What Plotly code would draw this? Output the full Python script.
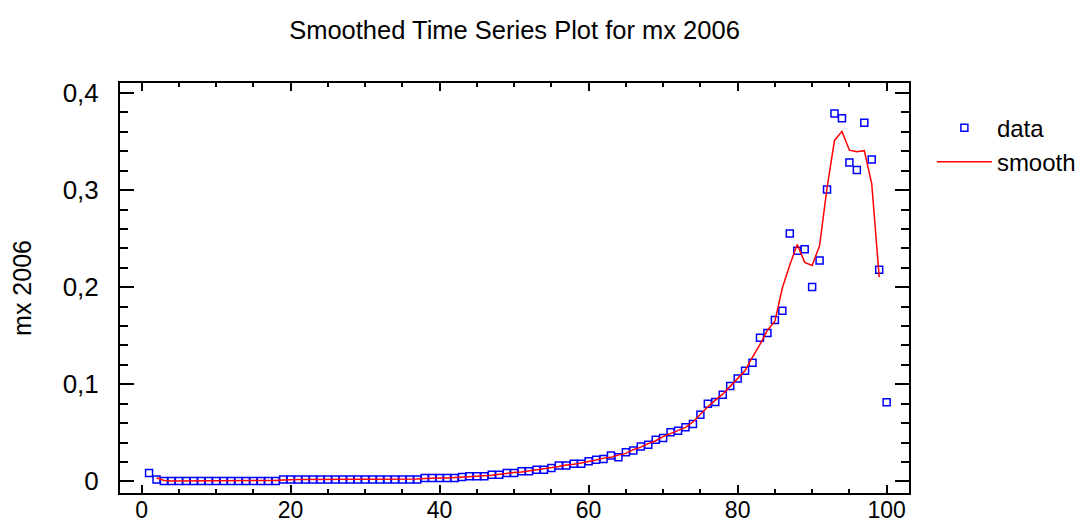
import plotly.graph_objects as go

# ---- data ----
x_data = list(range(1, 101))
y_data = (
    [0.0086, 0.0020]
    + [0.0004] * 16
    + [0.0020] * 19
    + [0.0035] * 5
    + [0.0045]
    + [0.0052] * 3
    + [0.0069, 0.0069, 0.0086, 0.0086, 0.0103, 0.0103, 0.0120, 0.0120, 0.0138,
       0.0162, 0.0162, 0.0182, 0.0182, 0.0206, 0.0223, 0.0230, 0.0265, 0.0247,
       0.0299, 0.0319, 0.0360, 0.0378, 0.0429, 0.0447, 0.0505, 0.0522, 0.0556,
       0.0591, 0.0687, 0.0800, 0.0818, 0.0893, 0.0982, 0.1060, 0.1140, 0.1222,
       0.1480, 0.1528, 0.1662, 0.1758, 0.2554, 0.2376, 0.2390, 0.2002, 0.2276,
       0.3005, 0.3790, 0.3740, 0.3285, 0.3207, 0.3694, 0.3316, 0.2180, 0.0814]
)

x_smooth = list(range(2, 100))
y_smooth = (
    [0.00367, 0.00093]
    + [0.0004] * 14
    + [0.00093, 0.00147]
    + [0.0020] * 17
    + [0.0025, 0.0030, 0.0035, 0.0035, 0.0035, 0.00383, 0.0044, 0.00497, 0.0052,
       0.00577, 0.00633, 0.00747, 0.00803, 0.00917, 0.00973, 0.01087, 0.01143,
       0.0126, 0.0140, 0.0154, 0.01687, 0.01753, 0.0190, 0.02037, 0.02197,
       0.02393, 0.0247, 0.02703, 0.02883, 0.0326, 0.03523, 0.0389, 0.0418,
       0.04603, 0.04913, 0.05277, 0.05563, 0.06113, 0.06927, 0.07683, 0.0837,
       0.08977, 0.09783, 0.10607, 0.11407, 0.12807, 0.1410, 0.15567, 0.16493,
       0.19913, 0.22293, 0.2440, 0.2256, 0.22227, 0.24277, 0.30237, 0.35117,
       0.3605, 0.34107, 0.33953, 0.34057, 0.30633, 0.21033]
)

x_tickvals = [0, 20, 40, 60, 80, 100]
y_tickvals = [0, 0.1, 0.2, 0.3, 0.4]
y_ticktext = ["0", "0,1", "0,2", "0,3", "0,4"]

FONT = "Liberation Sans, Arial, sans-serif"

fig = go.Figure()
fig.add_trace(go.Scatter(
    x=x_data, y=y_data, mode="markers", name="data",
    marker=dict(symbol="square-open", size=7, color="#0000FF",
                line=dict(width=1.5, color="#0000FF")),
))
fig.add_trace(go.Scatter(
    x=x_smooth, y=y_smooth, mode="lines", name="smooth",
    line=dict(color="#FF0000", width=1.5),
))

fig.update_layout(
    width=1083, height=528,
    margin=dict(l=120, r=174, t=83, b=35, autoexpand=False),
    paper_bgcolor="white", plot_bgcolor="white",
    font=dict(family=FONT, size=24, color="black"),
    title=dict(text="Smoothed Time Series Plot for mx 2006",
               x=0.5, xref="paper", xanchor="center",
               y=1 - 30 / 528, yref="container", yanchor="middle",
               font=dict(size=25.5, family=FONT, color="black")),
    showlegend=True,
    legend=dict(x=1.029, y=0.945, xanchor="left", yanchor="top",
                font=dict(size=24, family=FONT, color="black"),
                itemwidth=55, bgcolor="rgba(0,0,0,0)"),
)

fig.update_xaxes(
    range=[-2.9, 103.0], showgrid=False, zeroline=False, automargin=False,
    showline=True, linecolor="black", linewidth=2, mirror="allticks",
    ticks="inside", ticklen=8, tickwidth=1.5, tickcolor="black",
    tickvals=x_tickvals, ticklabelstandoff=-5,
    minor=dict(ticks="inside", dtick=5, ticklen=4, tickwidth=1.5, tickcolor="black", showgrid=False),
    tickfont=dict(size=23, family=FONT),
)
fig.update_yaxes(
    range=[-0.012, 0.4103], showgrid=False, zeroline=False, automargin=False,
    showline=True, linecolor="black", linewidth=2, mirror="allticks",
    ticks="inside", ticklen=14, tickwidth=1.5, tickcolor="black",
    tickvals=y_tickvals, ticktext=y_ticktext, ticklabelstandoff=14,
    minor=dict(ticks="inside", dtick=0.02, ticklen=8, tickwidth=1.5, tickcolor="black", showgrid=False),
    tickfont=dict(size=26, family=FONT),
    title=dict(text="mx 2006", standoff=24, font=dict(size=25, family=FONT)),
)

fig.write_html("out.html")
